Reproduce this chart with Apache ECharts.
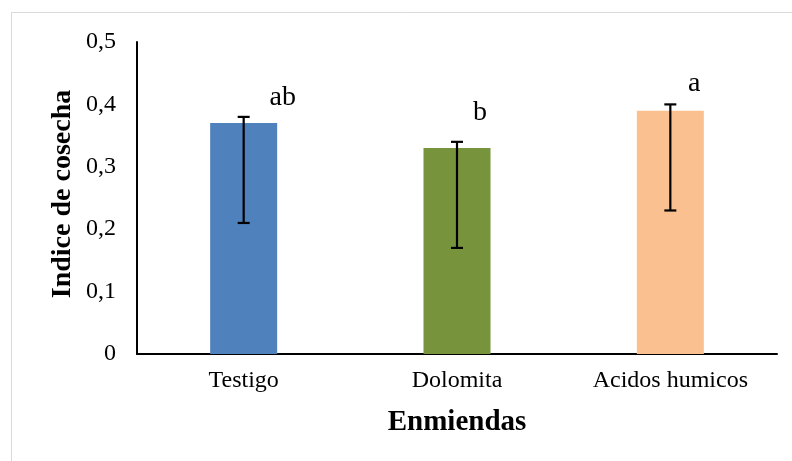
<!DOCTYPE html>
<html>
<head>
<meta charset="utf-8">
<script src="https://cdn.jsdelivr.net/npm/echarts@6/dist/echarts.min.js"></script>
<style>
  html, body { margin: 0; padding: 0; background: #fff; }
  #chart { width: 792px; height: 461px; }
</style>
</head>
<body>
<div id="chart"></div>
<script>
// Harvest index by soil amendment, with error bars and significance letters
const categories = ['Testigo', 'Dolomita', 'Acidos humicos'];
const meanValues = [0.37, 0.33, 0.39];
const errLow = [0.21, 0.17, 0.23];
const errHigh = [0.38, 0.34, 0.40];
const groupLetters = ['ab', 'b', 'a'];
const barColors = ['#4f81bd', '#77933c', '#fac090'];
// pixel offset of each letter from the top of its error bar
const letterOffsets = [[39, -19], [23, -29], [24, -21]];

const serif = '"Liberation Serif", "Times New Roman", serif';
const chart = echarts.init(document.getElementById('chart'), null, { renderer: 'canvas' });

chart.setOption({
  backgroundColor: '#ffffff',
  animation: false,
  grid: { left: 137, right: 15, top: 42, bottom: 107 },
  xAxis: {
    type: 'category',
    data: categories,
    axisLine: { lineStyle: { color: '#000', width: 2 } },
    axisTick: { show: false },
    axisLabel: { color: '#000', fontFamily: serif, fontSize: 24, margin: 15 }
  },
  yAxis: {
    type: 'value',
    min: 0, max: 0.5, interval: 0.1,
    axisLine: { show: true, lineStyle: { color: '#000', width: 2 } },
    axisTick: { show: false },
    splitLine: { show: false },
    axisLabel: {
      color: '#000', fontFamily: serif, fontSize: 24, margin: 21,
      formatter: v => v === 0 ? '0' : v.toFixed(1).replace('.', ',')
    }
  },
  graphic: [
    { type: 'rect', shape: { x: 11.5, y: 12.5, width: 800, height: 470 },
      style: { fill: 'none', stroke: '#d9d9d9', lineWidth: 1 }, z: 0 },
    { type: 'text', x: 457, y: 423,
      style: { text: 'Enmiendas', fill: '#000', font: 'bold 29px ' + serif,
               align: 'center', verticalAlign: 'middle' } },
    { type: 'text', x: 63, y: 194, rotation: Math.PI / 2,
      style: { text: 'Indice de cosecha', fill: '#000', font: 'bold 28px ' + serif,
               align: 'center', verticalAlign: 'middle' } }
  ],
  series: [
    {
      type: 'bar',
      barWidth: 67,
      data: meanValues.map((v, i) => ({ value: v, itemStyle: { color: barColors[i] } })),
      z: 2
    },
    {
      type: 'custom',
      z: 3,
      data: categories.map((c, i) => [i, errLow[i], errHigh[i]]),
      renderItem: function (params, api) {
        const i = api.value(0);
        const lo = api.coord([i, api.value(1)]);
        const hi = api.coord([i, api.value(2)]);
        const cap = 6;
        const st = { stroke: '#000', lineWidth: 2.2 };
        const off = letterOffsets[params.dataIndex];
        return {
          type: 'group',
          children: [
            { type: 'line', shape: { x1: hi[0], y1: hi[1], x2: lo[0], y2: lo[1] }, style: st },
            { type: 'line', shape: { x1: hi[0] - cap, y1: hi[1], x2: hi[0] + cap, y2: hi[1] }, style: st },
            { type: 'line', shape: { x1: lo[0] - cap, y1: lo[1], x2: lo[0] + cap, y2: lo[1] }, style: st },
            { type: 'text', x: hi[0] + off[0], y: hi[1] + off[1],
              style: { text: groupLetters[params.dataIndex], fill: '#000',
                       font: '28px ' + serif, align: 'center', verticalAlign: 'middle' } }
          ]
        };
      }
    }
  ]
});
</script>
</body>
</html>
